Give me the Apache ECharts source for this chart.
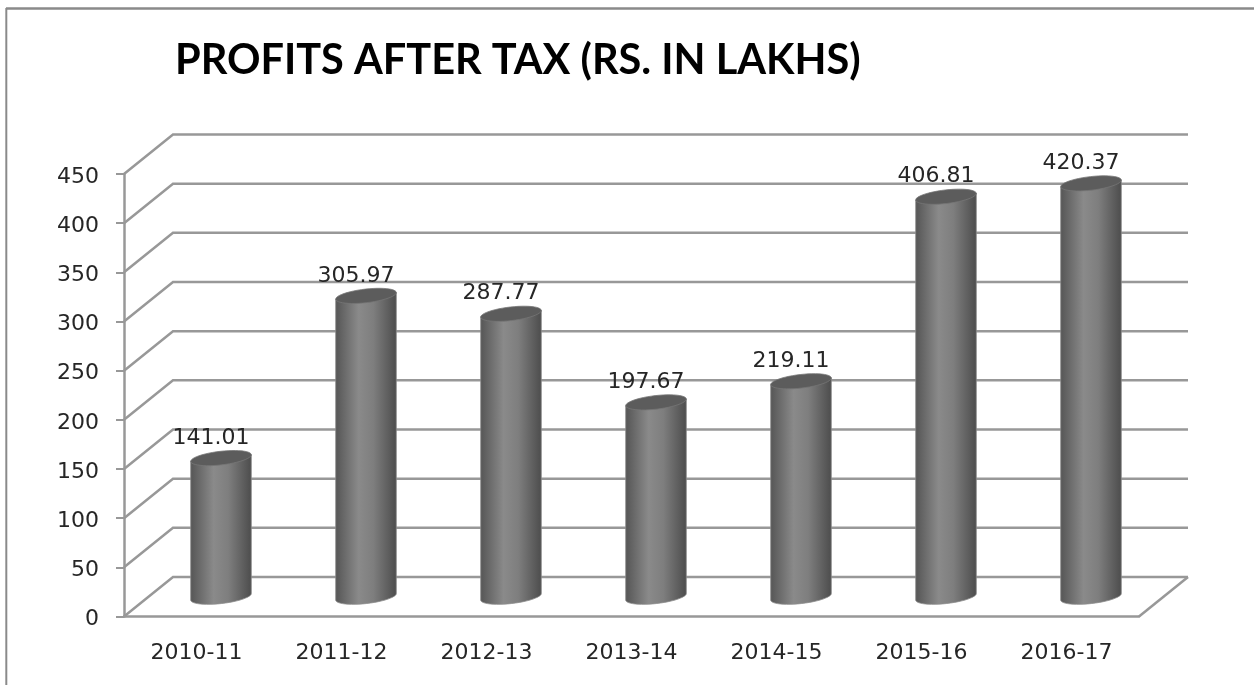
<!DOCTYPE html>
<html>
<head>
<meta charset="utf-8">
<style>
  html, body { margin: 0; background: #fff; }
  /* the reference is a soft, upscaled picture */
  #chart { width: 1254px; height: 685px; filter: blur(0.5px); }
</style>
<script src="https://cdn.jsdelivr.net/npm/echarts@6/dist/echarts.min.js"></script>
</head>
<body>
<div id="chart"></div>
<script>
const years = ['2010-11', '2011-12', '2012-13', '2013-14', '2014-15', '2015-16', '2016-17'];
const profits = [141.01, 305.97, 287.77, 197.67, 219.11, 406.81, 420.37];
const yTicks = [0, 50, 100, 150, 200, 250, 300, 350, 400, 450];

const lineColor = '#989898';
const textColor = '#262626';
const labelFamily = 'DejaVu Sans';
const labelSize = 22;
// back wall sits this far from the front axes
const depthX = 49;
const depthY = -39.5;

const ellipsePoint = (cx, cy, t) => {
  const a = 30.5, b = 6.8, rot = -6.5 * Math.PI / 180;
  return [
    cx + a * Math.cos(t) * Math.cos(rot) - b * Math.sin(t) * Math.sin(rot),
    cy + a * Math.cos(t) * Math.sin(rot) + b * Math.sin(t) * Math.cos(rot),
  ];
};

const wallItem = (params, api) => {
  const box = params.coordSys;
  const y = api.coord([0, api.value(0)])[1];
  const children = [{
    type: 'polyline',
    shape: { points: [[box.x, y], [box.x + depthX, y + depthY], [box.x + box.width + depthX, y + depthY]] },
    style: { stroke: lineColor, lineWidth: 2.5, fill: null },
  }];
  if (api.value(0) === 0) {
    // floor edge on the right
    children.push({
      type: 'line',
      shape: { x1: box.x + box.width, y1: y, x2: box.x + box.width + depthX, y2: y + depthY },
      style: { stroke: lineColor, lineWidth: 2.5 },
    });
  }
  return { type: 'group', children };
};

const cylinderItem = (params, api) => {
  const top = api.coord([api.value(0), api.value(1)]);
  const base = api.coord([api.value(0), 0]);
  const cx = top[0] + depthX / 2;
  const topY = top[1] + depthY / 2;
  const baseY = base[1] + depthY / 2;
  const body = [];
  for (let i = 0; i <= 24; i++) body.push(ellipsePoint(cx, baseY, Math.PI * i / 24));
  body.push(ellipsePoint(cx, topY, Math.PI));
  body.push(ellipsePoint(cx, topY, 0));
  const cap = [];
  for (let i = 0; i < 48; i++) cap.push(ellipsePoint(cx, topY, Math.PI * i / 24));
  return {
    type: 'group',
    children: [
      {
        type: 'polygon',
        shape: { points: body },
        style: {
          stroke: '#8c8c8c',
          lineWidth: 0.8,
          fill: new echarts.graphic.LinearGradient(0, 0, 1, 0, [
            { offset: 0, color: '#555555' },
            { offset: 0.38, color: '#8a8a8a' },
            { offset: 0.62, color: '#7e7e7e' },
            { offset: 1, color: '#4c4c4c' },
          ]),
        },
      },
      {
        type: 'polygon',
        shape: { points: cap },
        style: { fill: '#5c5c5c', stroke: '#767676', lineWidth: 0.8 },
      },
      {
        type: 'text',
        style: {
          x: cx - 10,
          y: topY - 20,
          text: api.value(1).toFixed(2),
          fontFamily: labelFamily,
          fontSize: labelSize,
          fill: textColor,
          align: 'center',
          verticalAlign: 'middle',
        },
      },
    ],
  };
};

const myEcharts = echarts.init(document.getElementById('chart'));
myEcharts.setOption({
  animation: false,
  backgroundColor: '#fff',
  title: {
    text: 'PROFITS AFTER TAX (RS. IN LAKHS)',
    left: 170,
    top: 35,
    textStyle: {
      fontFamily: 'Lato',
      fontSize: 41.5,
      fontWeight: 'bold',
      color: '#000',
    },
  },
  graphic: [
    { type: 'line', shape: { x1: 6, y1: 8.5, x2: 1254, y2: 8.5 }, style: { stroke: '#8a8a8a', lineWidth: 2.5 } },
    { type: 'line', shape: { x1: 6.3, y1: 8, x2: 6.3, y2: 685 }, style: { stroke: '#8a8a8a', lineWidth: 2 } },
  ],
  grid: { left: 124, top: 174, width: 1015, height: 442.5 },
  xAxis: {
    type: 'category',
    data: years,
    axisLine: { lineStyle: { color: lineColor, width: 2.5 } },
    axisTick: { length: 9, lineStyle: { color: lineColor, width: 2 } },
    axisLabel: { fontFamily: labelFamily, fontSize: labelSize, color: textColor, margin: 26 },
  },
  yAxis: {
    type: 'value',
    min: 0,
    max: 450,
    interval: 50,
    axisLine: { show: true, lineStyle: { color: lineColor, width: 2.5 } },
    axisTick: { show: true, length: 8, lineStyle: { color: lineColor, width: 2 } },
    axisLabel: {
      margin: 25,
      formatter: '{tick|{value}}',
      rich: {
        // tick labels sit a little below their ticks
        tick: { fontFamily: labelFamily, fontSize: labelSize, color: textColor, padding: [6, 0, 0, 0] },
      },
    },
    splitLine: { show: false },
  },
  series: [
    {
      type: 'custom',
      renderItem: wallItem,
      data: yTicks.map((v) => [v]),
      encode: { y: 0 },
      silent: true,
      z: 1,
    },
    {
      type: 'custom',
      renderItem: cylinderItem,
      data: profits.map((v, i) => [i, v]),
      encode: { x: 0, y: 1 },
      z: 3,
    },
  ],
});
</script>
</body>
</html>
